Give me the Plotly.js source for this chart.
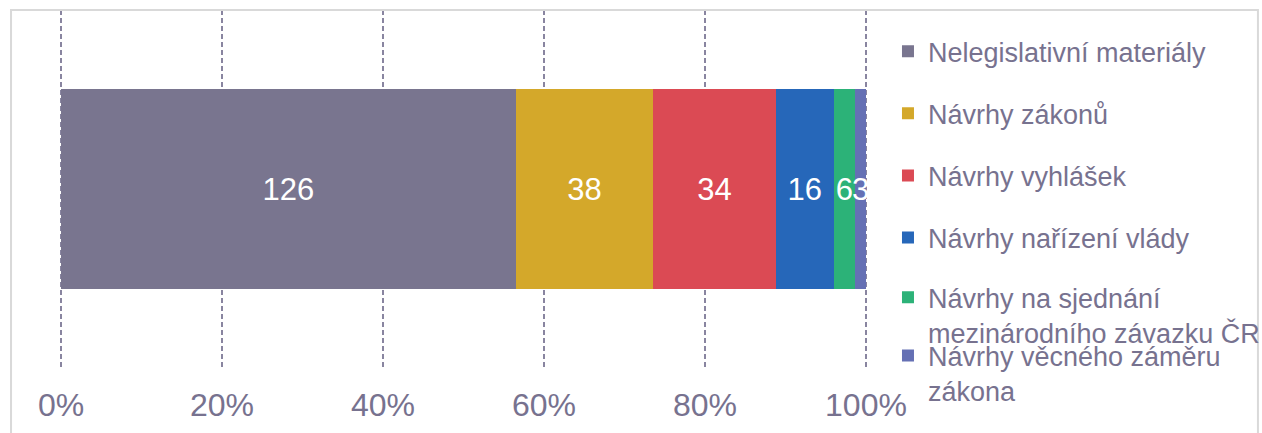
<!DOCTYPE html>
<html>
<head>
<meta charset="utf-8">
<script src="https://cdn.plot.ly/plotly-3.0.1.min.js"></script>
<style>
html,body{margin:0;padding:0;background:#fff;}
#chart{width:1262px;height:433px;}
</style>
</head>
<body>
<div id="chart"></div>
<script>
const category = ['Materiály'];
const seriesNames = [
  'Nelegislativní materiály',
  'Návrhy zákonů',
  'Návrhy vyhlášek',
  'Návrhy nařízení vlády',
  'Návrhy na sjednání<br>mezinárodního závazku ČR',
  'Návrhy věcného záměru<br>zákona'
];
const seriesValues = [126, 38, 34, 16, 6, 3];
const seriesColors = ['#79758f', '#d4a82a', '#db4a54', '#2667b9', '#2cb278', '#6570b4'];
const legendIds = ['legend', 'legend', 'legend', 'legend', 'legend2', 'legend3'];
const tickVals = [0, 20, 40, 60, 80, 100];
const tickText = ['0%', '20%', '40%', '60%', '80%', '100%'];

const textColor = '#77728f';
const fontFam = '"Liberation Sans", Arial, sans-serif';

const traces = seriesNames.map((name, i) => ({
  type: 'bar',
  orientation: 'h',
  name: name,
  y: category,
  x: [seriesValues[i]],
  text: [String(seriesValues[i])],
  textposition: 'inside',
  insidetextanchor: 'middle',
  constraintext: 'none',
  textangle: 0,
  textfont: {family: fontFam, size: 31, color: '#ffffff'},
  marker: {color: seriesColors[i], line: {width: 0}},
  legend: legendIds[i],
  legendgroup: 'g' + i,
  hoverinfo: 'skip'
}));

const legendBase = {
  font: {family: fontFam, size: 27, color: textColor},
  bgcolor: 'rgba(0,0,0,0)',
  borderwidth: 0,
  xanchor: 'left',
  yanchor: 'top',
  x: 1.0247,
  valign: 'top',
  traceorder: 'grouped',
  itemwidth: 30
};

const layout = {
  width: 1262,
  height: 433,
  margin: {l: 59, r: 394, t: 10, b: 65, autoexpand: false},
  paper_bgcolor: '#ffffff',
  plot_bgcolor: '#ffffff',
  barmode: 'stack',
  barnorm: 'percent',
  bargap: 0.44,
  showlegend: true,
  font: {family: fontFam, color: textColor},
  xaxis: {
    range: [-0.25, 100.25],
    tickvals: tickVals,
    ticktext: tickText,
    tickfont: {family: fontFam, size: 32, color: textColor},
    showgrid: true,
    gridcolor: '#8985a0',
    gridwidth: 1.6,
    griddash: '5px,3px',
    zeroline: false,
    showline: false,
    ticks: '',
    ticklabelstandoff: 15,
    fixedrange: true
  },
  yaxis: {
    visible: false,
    showgrid: false,
    zeroline: false,
    fixedrange: true
  },
  legend: Object.assign({}, legendBase, {y: 0.952, tracegroupgap: 24}),
  legend2: Object.assign({}, legendBase, {y: 0.265, tracegroupgap: 0}),
  legend3: Object.assign({}, legendBase, {y: 0.102, tracegroupgap: 0}),
  shapes: [{
    type: 'rect', xref: 'paper', yref: 'paper',
    x0: -0.0593, x1: 1.482, y0: -0.35, y1: 1.0,
    line: {color: '#d9d9d9', width: 2},
    fillcolor: 'rgba(0,0,0,0)',
    layer: 'above'
  }]
};

Plotly.newPlot('chart', traces, layout, {displayModeBar: false, staticPlot: true});
</script>
</body>
</html>
